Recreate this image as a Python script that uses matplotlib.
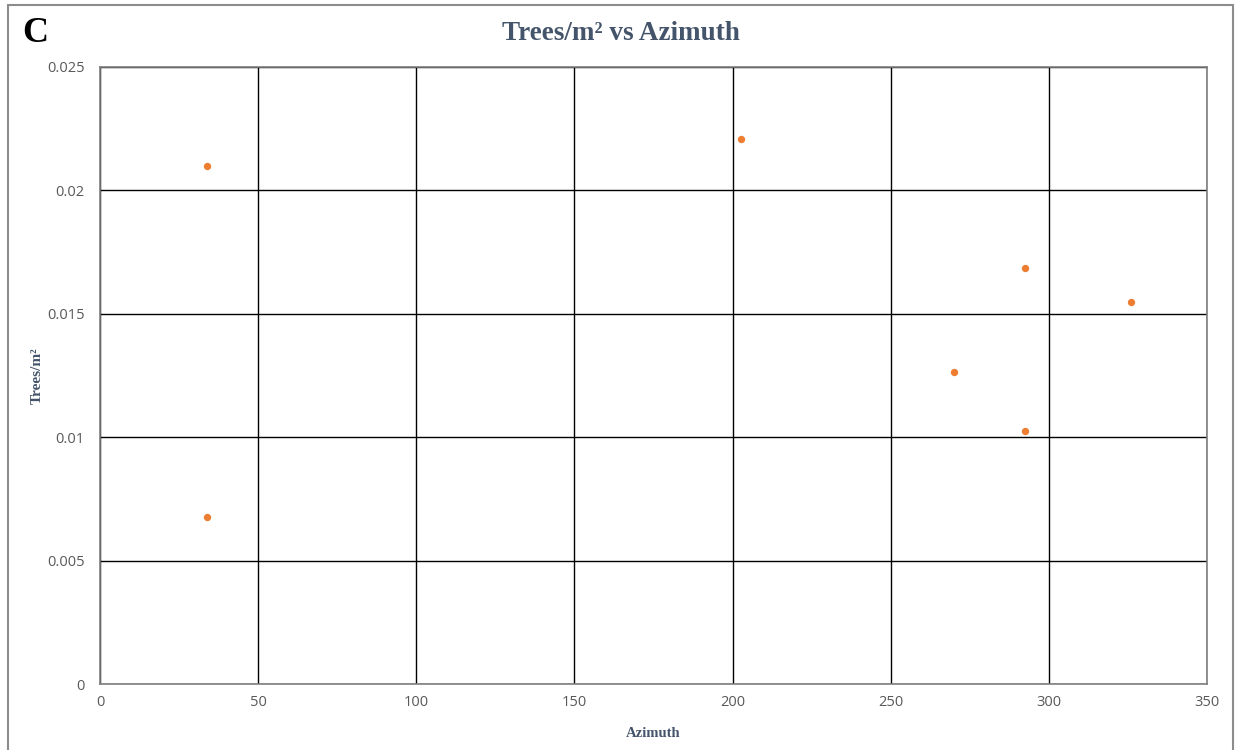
import matplotlib

matplotlib.use("Agg")
import matplotlib.pyplot as plt
from matplotlib.patches import Rectangle

azimuth = [33.8, 33.8, 202.7, 270.0, 292.4, 292.4, 326.0]
trees_per_m2 = [0.0210, 0.00677, 0.0221, 0.01264, 0.01686, 0.01025, 0.01548]

x_ticks = [0, 50, 100, 150, 200, 250, 300, 350]
y_ticks = [0, 0.005, 0.01, 0.015, 0.02, 0.025]
y_tick_labels = ["0", "0.005", "0.01", "0.015", "0.02", "0.025"]

TITLE_COLOR = "#44546A"
TICK_COLOR = "#595959"
SERIF = "Liberation Serif"

fig = plt.figure(figsize=(12.39, 7.5), dpi=100)
ax = fig.add_axes([100 / 1239, 1 - 684 / 750, 1107 / 1239, 617 / 750])

ax.scatter(azimuth, trees_per_m2, s=28, color="#ED7D31", zorder=3, linewidths=0)

ax.set_xlim(0, 350)
ax.set_ylim(0, 0.025)
ax.set_xticks(x_ticks)
ax.set_yticks(y_ticks, y_tick_labels)
ax.grid(True, color="black", linewidth=1.0)
ax.set_axisbelow(True)
ax.tick_params(length=0, colors=TICK_COLOR, labelsize=10.5)
ax.tick_params(axis="y", pad=11)
ax.tick_params(axis="x", pad=8)
for label in ax.get_xticklabels() + ax.get_yticklabels():
    label.set_fontfamily("Open Sans")
for spine in ax.spines.values():
    spine.set_color("#7F7F7F")
    spine.set_linewidth(1.2)

ax.set_xlabel("Azimuth", family=SERIF, weight="bold", fontsize=10.5, color=TITLE_COLOR, labelpad=12)
ax.set_ylabel("Trees/m²", family=SERIF, weight="bold", fontsize=11, color=TITLE_COLOR)
ax.yaxis.set_label_coords(-56 / 1107, 0.5)

fig.text(0.5013, 1 - 33 / 750, "Trees/m² vs Azimuth", ha="center", va="center",
         family=SERIF, weight="bold", fontsize=19.5, color=TITLE_COLOR)
fig.text(22 / 1239, 1 - 33 / 750, "C", ha="left", va="center",
         family=SERIF, weight="bold", fontsize=26, color="black")

border = Rectangle((8 / 1239, -0.05), 1225 / 1239, 1.05 - 5 / 750, transform=fig.transFigure,
                   fill=False, edgecolor="#8C8C8C", linewidth=1.5, clip_on=False)
fig.patches.append(border)

fig.savefig("out.png", dpi=100)
